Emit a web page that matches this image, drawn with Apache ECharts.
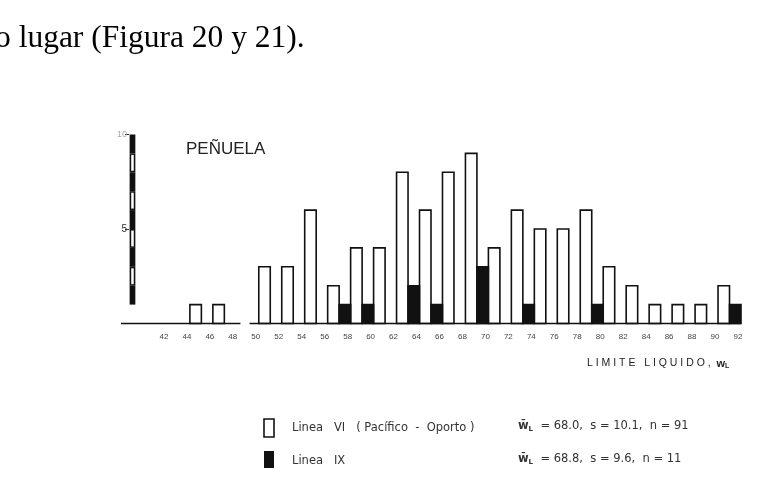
<!DOCTYPE html>
<html><head><meta charset="utf-8">
<script src="https://cdn.jsdelivr.net/npm/echarts@6/dist/echarts.min.js"></script>
<style>html,body{margin:0;padding:0;background:#fff}#c{width:761px;height:480px}</style>
</head><body><div id="c"></div>
<script>
// Histogram of liquid limit w_L, bins of width 2 (start value of each bin)
const binStart = [42,44,46,48,50,52,54,56,58,60,62,64,66,68,70,72,74,76,78,80,82,84,86,88,90];
// Línea VI (Pacífico - Oporto), n = 91
const lineaVI  = [0,1,1,0,3,3,6,2,4,4,8,6,8,9,4,6,5,5,6,3,2,1,1,1,2];
// Línea IX, n = 11
const lineaIX  = [0,0,0,0,0,0,0,1,1,0,2,1,0,3,0,1,0,0,1,0,0,0,0,0,1];
const xTickLabels = ['42','44','46','48','50','52','54','56','58','60','62','64','66','68','70','72','74','76','78','80','82','84','86','88','90','92'];
const yTickLabels = ['5','10'];
// scale bar drawn as the y axis: alternating unit segments from 1 to 10
const scaleUnits = [1,2,3,4,5,6,7,8,9];
const statsVI = {mean:'68.0', s:'10.1', n:'91'};
const statsIX = {mean:'68.8', s:'9.6', n:'11'};

const dataVI = [], dataIX = [];
binStart.forEach((b,i)=>{
  if (lineaVI[i] > 0) dataVI.push([b, b+1, lineaVI[i]]);
  if (lineaIX[i] > 0) dataIX.push([b+1, b+2, lineaIX[i]]);
});
const scaleData = scaleUnits.map(u => [u, u+1, (u % 2 === 1) ? 1 : 0]);

function makeBar(fill){
  return function(params, api){
    const x0 = api.value(0), x1 = api.value(1), h = api.value(2);
    const p0 = api.coord([x0, 0]), p1 = api.coord([x1, h]);
    return {type:'rect', shape:{x:p0[0], y:p1[1], width:p1[0]-p0[0], height:p0[1]-p1[1]},
      style:{fill:fill, stroke:'#111', lineWidth:1.6}};
  };
}
const SCALE_X0 = 38.75, SCALE_X1 = 39.25;
function scaleRender(params, api){
  const y0 = api.value(0), y1 = api.value(1), dark = api.value(2);
  const a = api.coord([SCALE_X0, y0]), b = api.coord([SCALE_X1, y1]);
  if (dark) {
    return {type:'rect', shape:{x:a[0], y:b[1], width:b[0]-a[0], height:a[1]-b[1]}, style:{fill:'#111'}};
  }
  return {type:'group', children:[
    {type:'rect', shape:{x:a[0], y:b[1], width:b[0]-a[0], height:a[1]-b[1]}, style:{fill:'#111'}},
    {type:'rect', shape:{x:a[0]+1.6, y:b[1]+1.5, width:b[0]-a[0]-3.2, height:a[1]-b[1]-3}, style:{fill:'#fff'}}
  ]};
}

const chart = echarts.init(document.getElementById('c'));
const FONT = 'Liberation Sans, Arial, sans-serif';
const SCAN = 'DejaVu Sans, sans-serif';
const statRich = {w:{fontSize:11.5, fontFamily:SCAN, fill:'#333', fontWeight:'bold'},
                  s:{fontSize:7, fontFamily:SCAN, fill:'#333', fontWeight:'bold', padding:[6,0,0,0]}};
chart.setOption({
  animation:false,
  backgroundColor:'#fff',
  grid:{left:121, right:20, top:134.5, bottom:156.5},
  xAxis:{type:'value', min:38, max:92, interval:2,
    axisLine:{show:false}, axisTick:{show:false}, splitLine:{show:false},
    axisLabel:{margin:9, fontSize:8, color:'#444', fontFamily:FONT, padding:[0,6,0,0],
      formatter:v => xTickLabels.indexOf(String(v)) >= 0 ? String(v) : ''}},
  yAxis:{type:'value', min:0, max:10, interval:5, offset:-8,
    axisLine:{show:false}, splitLine:{show:false},
    axisTick:{show:true, length:4, lineStyle:{color:'#333', width:1}},
    axisLabel:{margin:2, fontFamily:FONT,
      formatter:v => yTickLabels.indexOf(String(v)) < 0 ? '' : (v === 10 ? '{a|' + v + '}' : '{b|' + v + '}'),
      rich:{a:{fontSize:9, color:'#aaa', fontFamily:FONT}, b:{fontSize:10, color:'#333', fontFamily:FONT}}}},
  title:{text:'PEÑUELA', left:186, top:141, padding:0,
    textStyle:{fontSize:17, fontWeight:'normal', color:'#222', fontFamily:FONT}},
  series:[
    {type:'custom', name:'Linea VI (Pacífico - Oporto)', renderItem:makeBar('#fff'), data:dataVI,
      encode:{x:[0,1], y:2}, z:2,
      markLine:{silent:true, symbol:'none', label:{show:false},
        lineStyle:{color:'#111', width:1.3, type:'solid'},
        data:[[{coord:[38,0]},{coord:[48.4,0]}],[{coord:[49.2,0]},{coord:[92,0]}]]}},
    {type:'custom', name:'Linea IX', renderItem:makeBar('#111'), data:dataIX,
      encode:{x:[0,1], y:2}, z:3},
    {type:'custom', name:'escala', renderItem:scaleRender, data:scaleData,
      encode:{y:[0,1]}, z:4}
  ],
  graphic:[
    {type:'text', left:-5, top:23, style:{text:'o lugar (Figura 20 y 21).', fontSize:31.5,
      fontFamily:'Liberation Serif, Times New Roman, serif', fill:'#000'}},
    {type:'text', left:587, top:358, style:{
      text:'L I M I T E   L I Q U I D O ,  {w|w}{s|L}', fontSize:10.5, fontFamily:FONT, fill:'#222',
      rich:{w:{fontSize:11, fontFamily:FONT, fill:'#222', fontWeight:'bold'}, s:{fontSize:7, fontFamily:FONT, fill:'#222', fontWeight:'bold', padding:[6,0,0,0]}}}},
    {type:'rect', shape:{x:264, y:419, width:10, height:18}, style:{fill:'#fff', stroke:'#111', lineWidth:1.6}},
    {type:'rect', shape:{x:264, y:451, width:10, height:17}, style:{fill:'#111'}},
    {type:'text', left:292, top:422, style:{text:'Linea   VI   ( Pacífico  -  Oporto )', fontSize:11.5, fontFamily:SCAN, fill:'#333'}},
    {type:'text', left:292, top:455, style:{text:'Linea   IX', fontSize:11.5, fontFamily:SCAN, fill:'#333'}},
    {type:'text', left:518, top:420, style:{
      text:'{w|w̄}{s|L}  = ' + statsVI.mean + ',  s = ' + statsVI.s + ',  n = ' + statsVI.n,
      fontSize:11.5, fontFamily:SCAN, fill:'#333', rich:statRich}},
    {type:'text', left:518, top:453, style:{
      text:'{w|w̄}{s|L}  = ' + statsIX.mean + ',  s = ' + statsIX.s + ',  n = ' + statsIX.n,
      fontSize:11.5, fontFamily:SCAN, fill:'#333', rich:statRich}}
  ]
});
</script></body></html>
